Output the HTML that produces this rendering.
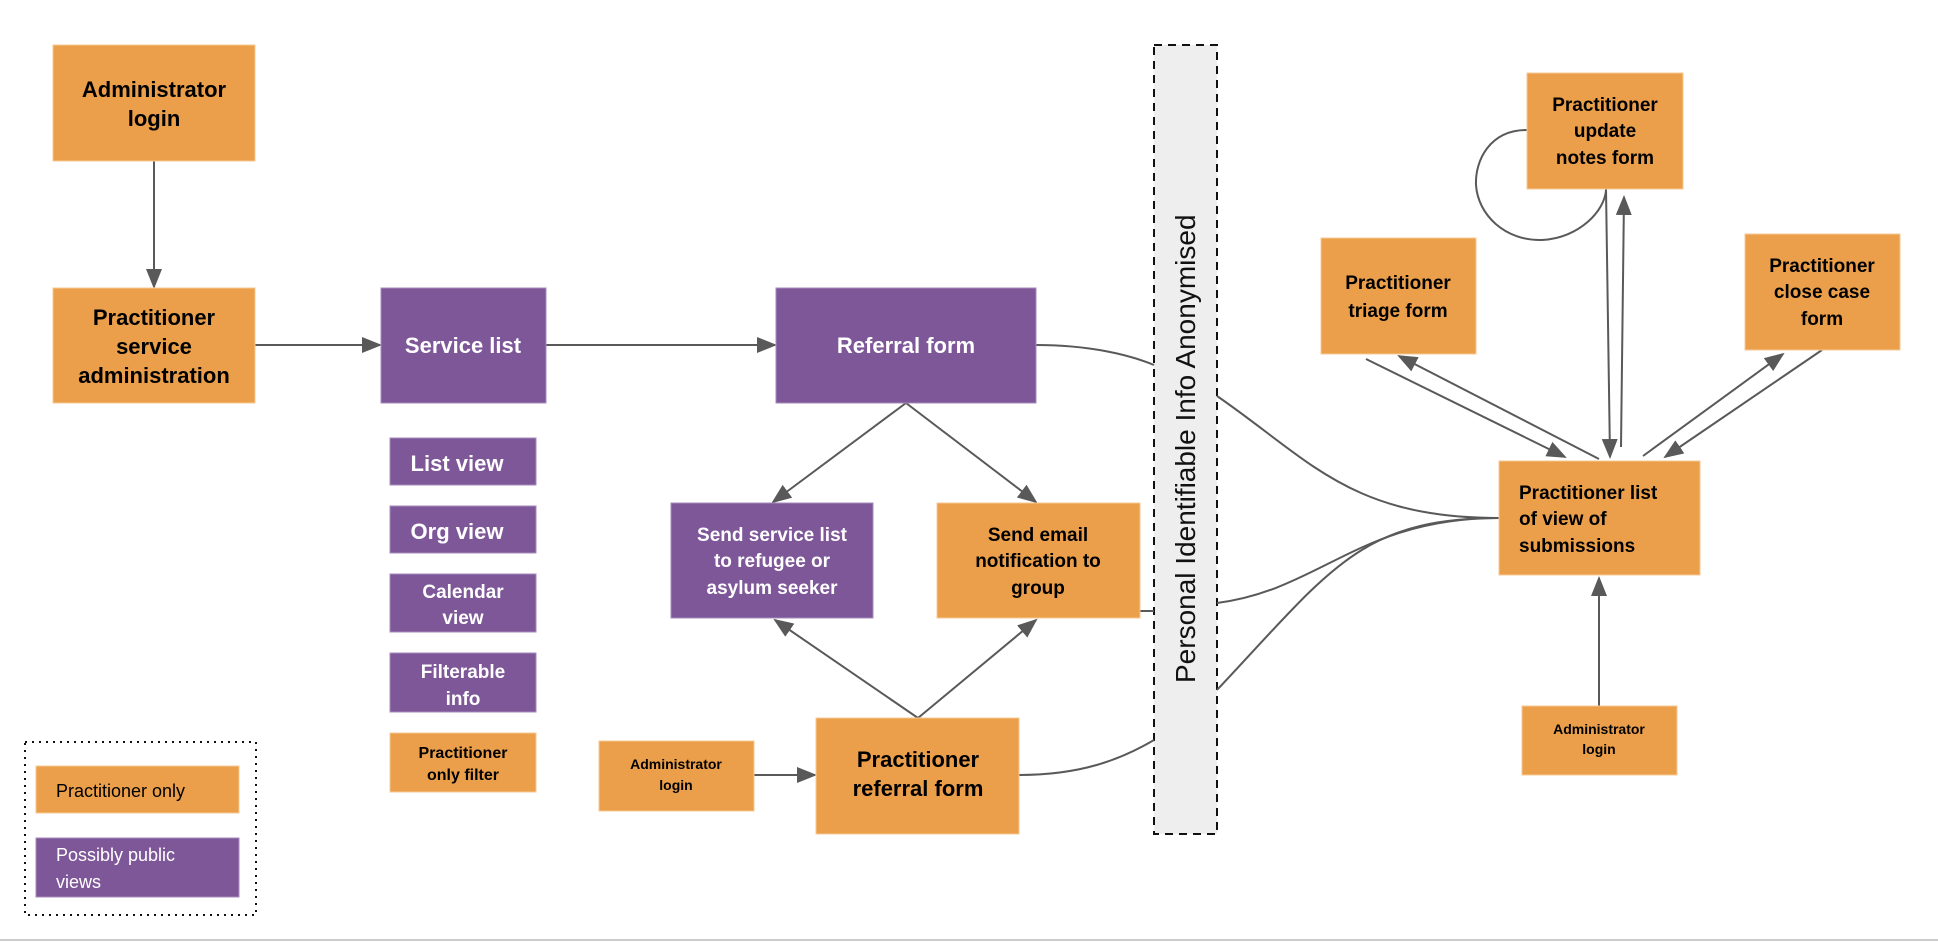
<!DOCTYPE html>
<html><head><meta charset="utf-8"><style>
html,body{margin:0;padding:0;background:#fff;}
svg{display:block;}
text{font-family:"Liberation Sans",sans-serif;font-weight:bold;}
</style></head><body>
<svg width="1938" height="942" viewBox="0 0 1938 942" xmlns="http://www.w3.org/2000/svg">
<defs>
<marker id="a" markerWidth="10" markerHeight="10" refX="9" refY="5" orient="auto" markerUnits="userSpaceOnUse" viewBox="0 0 10 10">
<path d="M0,0 L10,5 L0,10 z" fill="#595959"/></marker>
<marker id="b" markerWidth="20" markerHeight="16" refX="18" refY="8" orient="auto" markerUnits="userSpaceOnUse" viewBox="0 0 20 16">
<path d="M0,0 L20,8 L0,16 z" fill="#595959"/></marker>
</defs>
<rect width="1938" height="942" fill="#fff"/>
<line x1="0" y1="940" x2="1938" y2="940" stroke="#ccc" stroke-width="2"/>

<!-- PII bar -->
<rect x="1154" y="45" width="63" height="789" fill="#eeeeee" stroke="#111" stroke-width="2" stroke-dasharray="8,6"/>
<text x="1195" y="683" transform="rotate(-90 1195 683)" font-size="28" font-weight="normal" fill="#111" style="font-weight:normal">Personal Identifiable Info Anonymised</text>

<g stroke="#595959" stroke-width="2" fill="none">
<line x1="154" y1="161" x2="154" y2="287" marker-end="url(#b)"/>
<line x1="255" y1="345" x2="380" y2="345" marker-end="url(#b)"/>
<line x1="546" y1="345" x2="775" y2="345" marker-end="url(#b)"/>
<line x1="906" y1="403" x2="773" y2="502" marker-end="url(#b)"/>
<line x1="906" y1="403" x2="1036" y2="502" marker-end="url(#b)"/>
<line x1="918" y1="718" x2="775" y2="620" marker-end="url(#b)"/>
<line x1="918" y1="718" x2="1036" y2="620" marker-end="url(#b)"/>
<line x1="754" y1="775" x2="815" y2="775" marker-end="url(#b)"/>
<path d="M1036,345 C1090,345 1130,355 1154,365"/>
<path d="M1019,775 C1080,775 1120,760 1154,740"/>
<line x1="1140" y1="611" x2="1154" y2="611"/>
<path d="M1217,396 C1310,460 1350,518 1499,518"/>
<path d="M1217,603 C1320,590 1360,518 1499,518"/>
<path d="M1217,690 C1330,570 1360,518 1499,518"/>
<line x1="1599" y1="706" x2="1599" y2="578" marker-end="url(#b)"/>
<line x1="1606" y1="189" x2="1610" y2="457" marker-end="url(#b)"/>
<line x1="1621" y1="447" x2="1624" y2="197" marker-end="url(#b)"/>
<line x1="1366" y1="359" x2="1565" y2="457" marker-end="url(#b)"/>
<line x1="1599" y1="459" x2="1399" y2="356" marker-end="url(#b)"/>
<line x1="1643" y1="456" x2="1783" y2="354" marker-end="url(#b)"/>
<line x1="1822" y1="350" x2="1665" y2="457" marker-end="url(#b)"/>
<path d="M1527,130 C1490,130 1475,160 1476,185 C1478,215 1505,241 1542,240 C1580,238 1605,210 1606,190"/>
</g>

<g fill="#EB9F4A" stroke="#f5c894" stroke-width="1">
<rect x="53" y="45" width="202" height="116"/>
<rect x="53" y="288" width="202" height="115"/>
<rect x="390" y="733" width="146" height="59"/>
<rect x="36" y="766" width="203" height="47"/>
<rect x="599" y="741" width="155" height="70"/>
<rect x="816" y="718" width="203" height="116"/>
<rect x="937" y="503" width="203" height="115"/>
<rect x="1527" y="73" width="156" height="116"/>
<rect x="1321" y="238" width="155" height="116"/>
<rect x="1745" y="234" width="155" height="116"/>
<rect x="1499" y="461" width="201" height="114"/>
<rect x="1522" y="706" width="155" height="69"/>
</g>
<g fill="#7E5799" stroke="#a58bbb" stroke-width="1">
<rect x="381" y="288" width="165" height="115"/>
<rect x="776" y="288" width="260" height="115"/>
<rect x="390" y="438" width="146" height="47"/>
<rect x="390" y="506" width="146" height="47"/>
<rect x="390" y="574" width="146" height="58"/>
<rect x="390" y="653" width="146" height="59"/>
<rect x="671" y="503" width="202" height="115"/>
<rect x="36" y="838" width="203" height="59"/>
</g>
<rect x="25" y="742" width="231" height="173" fill="none" stroke="#111" stroke-width="2" stroke-dasharray="2,5"/>

<g text-anchor="middle" fill="#000" font-size="22">
<text x="154" y="97">Administrator</text><text x="154" y="126">login</text>
<text x="154" y="325">Practitioner</text><text x="154" y="354">service</text><text x="154" y="383">administration</text>
<text x="918" y="767">Practitioner</text><text x="918" y="796">referral form</text>
</g>
<g text-anchor="middle" fill="#fff" font-size="22">
<text x="463" y="353">Service list</text>
<text x="906" y="353">Referral form</text>
<text x="457" y="471">List view</text>
<text x="457" y="539">Org view</text>
</g>
<g text-anchor="middle" fill="#fff" font-size="19">
<text x="463" y="598">Calendar</text><text x="463" y="624">view</text>
<text x="463" y="678">Filterable</text><text x="463" y="705">info</text>
<text x="772" y="541">Send service list</text><text x="772" y="567">to refugee or</text><text x="772" y="594">asylum seeker</text>
</g>
<g text-anchor="middle" fill="#000" font-size="19">
<text x="1038" y="541">Send email</text><text x="1038" y="567">notification to</text><text x="1038" y="594">group</text>
<text x="1605" y="111">Practitioner</text><text x="1605" y="137">update</text><text x="1605" y="164">notes form</text>
<text x="1398" y="289">Practitioner</text><text x="1398" y="317">triage form</text>
<text x="1822" y="272">Practitioner</text><text x="1822" y="298">close case</text><text x="1822" y="325">form</text>
</g>
<g fill="#000" font-size="19">
<text x="1519" y="499">Practitioner list</text><text x="1519" y="525">of view of</text><text x="1519" y="552">submissions</text>
</g>
<g text-anchor="middle" fill="#000" font-size="16">
<text x="463" y="758">Practitioner</text><text x="463" y="780">only filter</text>
</g>
<g text-anchor="middle" fill="#000" font-size="14">
<text x="676" y="769">Administrator</text><text x="676" y="790">login</text>
<text x="1599" y="734">Administrator</text><text x="1599" y="754">login</text>
</g>
<g font-size="18" style="font-weight:normal">
<text x="56" y="797" fill="#000" style="font-weight:normal">Practitioner only</text>
<text x="56" y="861" fill="#fff" style="font-weight:normal">Possibly public</text>
<text x="56" y="888" fill="#fff" style="font-weight:normal">views</text>
</g>
</svg>
</body></html>
